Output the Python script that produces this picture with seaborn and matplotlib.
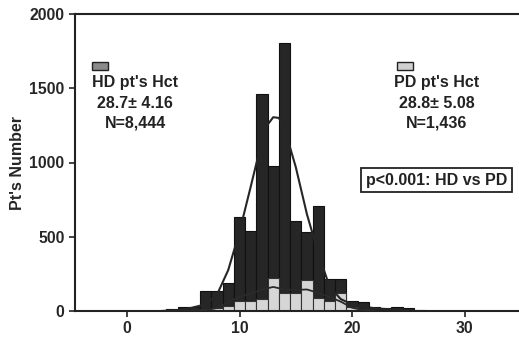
import matplotlib
matplotlib.use("Agg")
import matplotlib.pyplot as plt
import seaborn as sns
import pandas as pd
from matplotlib.patches import Rectangle

# Histogram bins (bin centres) and patient counts
hd_bins = [3, 4, 5, 6, 7, 8, 9, 10, 11, 12, 13, 14, 15, 16, 17, 18, 19, 20, 21, 22, 23, 24, 25, 26]
hd_counts = [3, 12, 25, 25, 135, 135, 186, 635, 541, 1461, 978, 1802, 608, 534, 707, 215, 215, 69, 58, 29, 18, 29, 20, 5]

pd_bins = [7, 8, 9, 10, 11, 12, 13, 14, 15, 16, 17, 18, 19, 20, 21]
pd_counts = [11, 20, 36, 67, 69, 79, 220, 119, 121, 209, 90, 69, 119, 29, 13]

# Fitted distribution curves
hd_curve_x = [3, 5, 7, 8, 9, 10, 11, 12, 12.5, 13, 13.5, 14, 15, 16, 17, 18, 19, 20, 22, 25]
hd_curve_y = [0, 8, 45, 110, 276, 534, 838, 1150, 1255, 1305, 1300, 1230, 970, 650, 390, 165, 80, 45, 18, 4]

pd_curve_x = [5, 7, 8, 9, 10, 11, 12, 13, 14, 15, 16, 17, 18, 19, 20, 21, 22]
pd_curve_y = [0, 5, 20, 60, 95, 118, 145, 162, 145, 142, 145, 122, 95, 63, 22, 6, 0]

W, H = 519, 338
fig = plt.figure(figsize=(W / 100, H / 100), dpi=100)
sns.set_style("white")
plt.rcParams["font.family"] = ["Liberation Sans", "DejaVu Sans"]
plt.rcParams["font.weight"] = "bold"

ax = fig.add_axes([75 / W, (H - 311) / H, (W - 75) / W, (311 - 14) / H])

hd_df = pd.DataFrame({"hct": hd_bins, "n": hd_counts})
pd_df = pd.DataFrame({"hct": pd_bins, "n": pd_counts})

sns.histplot(data=hd_df, x="hct", weights="n", discrete=True, ax=ax,
             color="#262626", edgecolor="#111111", linewidth=0.8, alpha=1.0)
sns.histplot(data=pd_df, x="hct", weights="n", discrete=True, ax=ax,
             color="#d6d6d6", edgecolor="#333333", linewidth=0.8, alpha=1.0)

sns.lineplot(x=hd_curve_x, y=hd_curve_y, ax=ax, color="#262626", linewidth=1.5, zorder=5)
sns.lineplot(x=pd_curve_x, y=pd_curve_y, ax=ax, color="#2a2a2a", linewidth=1.3, zorder=5)

x0 = (75 - 127) / 11.25
x1 = (W - 127) / 11.25
ax.set_xlim(x0, x1)
ax.set_ylim(0, 2000)
ax.set_xticks([0, 10, 20, 30])
ax.set_yticks([0, 500, 1000, 1500, 2000])
ax.set_xlabel("")
ax.set_ylabel("Pt's Number", fontsize=11.5, fontweight="bold", labelpad=3)
ax.tick_params(axis="both", labelsize=11.3, direction="out", length=4, width=1.2,
               color="#222222", bottom=True, left=True)
for lab in ax.get_xticklabels() + ax.get_yticklabels():
    lab.set_fontweight("bold")
for side in ["left", "bottom", "top"]:
    ax.spines[side].set_linewidth(1.5)
    ax.spines[side].set_color("#222222")
ax.spines["right"].set_visible(False)

# Legend blocks
def fig_xy(px, py):
    return px / W, 1 - py / H

fig.patches.append(Rectangle(fig_xy(92, 70), 16 / W, 8 / H, transform=fig.transFigure,
                             facecolor="#8a8a8a", edgecolor="#222222", linewidth=1.0))
fig.patches.append(Rectangle(fig_xy(397, 70), 16 / W, 8 / H, transform=fig.transFigure,
                             facecolor="#d0d0d0", edgecolor="#222222", linewidth=1.0))

txt = dict(fontsize=11.5, fontweight="bold", color="#222222", ha="center", va="center")
fig.text(*fig_xy(135, 82), "HD pt's Hct", **txt)
fig.text(*fig_xy(135, 103), "28.7\u00b1 4.16", **txt)
fig.text(*fig_xy(135, 123), "N=8,444", **txt)
fig.text(*fig_xy(437, 83), "PD pt's Hct", **txt)
fig.text(*fig_xy(437, 103), "28.8\u00b1 5.08", **txt)
fig.text(*fig_xy(437, 123), "N=1,436", **txt)
fig.text(*fig_xy(436.5, 180), "p<0.001: HD vs PD",
         bbox=dict(boxstyle="square,pad=0.3", facecolor="white", edgecolor="#222222", linewidth=1.3),
         **txt)

fig.savefig("out.png", dpi=100)
